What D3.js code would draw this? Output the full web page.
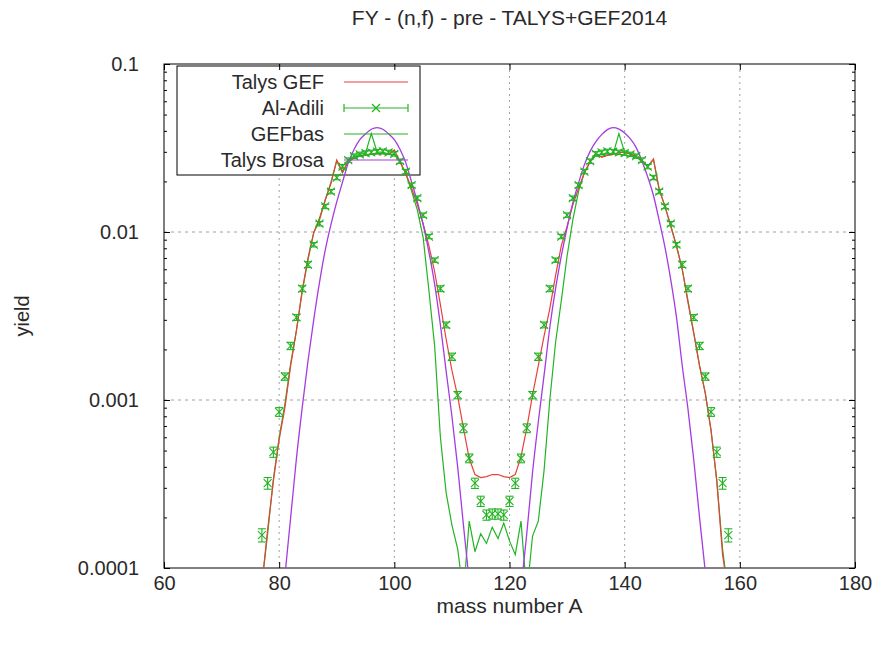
<!DOCTYPE html>
<html>
<head>
<meta charset="utf-8">
<script src="https://cdn.jsdelivr.net/npm/d3@7"></script>
<style>
  body { margin: 0; background: #fff; }
  text { font-family: "Liberation Sans", Arial, sans-serif; fill: #2a2a2a; }
</style>
</head>
<body>
<svg id="chart" width="875" height="646"></svg>
<script>
// ---- data ----
const massA = [77,78,79,80,81,82,83,84,85,86,87,88,89,90,91,92,93,94,95,96,97,98,99,100,
  101,102,103,104,105,106,107,108,109,110,111,112,113,114,115,116,117,118,119,120,
  121,122,123,124,125,126,127,128,129,130,131,132,133,134,135,136,137,138,139,140,
  141,142,143,144,145,146,147,148,149,150,151,152,153,154,155,156,157,158];

// Talys GEF (red)
const talysGef = [8e-5,1.7e-4,3.3e-4,5.8e-4,9e-4,1.6e-3,2.6e-3,4.5e-3,7e-3,9.9e-3,0.0118,0.0155,0.0195,0.0268,0.0228,0.0262,0.0275,0.0283,0.0288,0.0292,0.0293,0.0292,0.029,0.0308,
  0.0262,0.0222,0.0182,0.0145,0.0112,0.0083,0.0058,0.0037,0.0023,0.0015,1.05e-3,6.8e-4,4.5e-4,3.6e-4,3.45e-4,3.5e-4,3.6e-4,3.6e-4,3.5e-4,3.45e-4,
  3.6e-4,4.6e-4,6.8e-4,1.07e-3,1.6e-3,2.4e-3,3.5e-3,5.5e-3,8.3e-3,0.0108,0.0145,0.0182,0.0225,0.0262,0.0295,0.0278,0.0286,0.029,0.0298,0.0298,
  0.0292,0.028,0.0265,0.0245,0.0272,0.0178,0.0142,0.0108,0.0082,0.006,0.0038,0.0025,0.0016,0.0011,6.6e-4,3.3e-4,1.2e-4,7e-5];

// Al-Adili (green points with error bars)
const adili = [1.57e-4,3.2e-4,4.9e-4,8.5e-4,1.38e-3,2.1e-3,3.1e-3,4.6e-3,6.4e-3,8.4e-3,0.0112,0.0142,0.0174,0.0211,0.0245,0.0268,0.0283,0.029,0.0295,0.0298,0.0301,0.0302,0.0298,0.0292,
  0.0264,0.0229,0.019,0.0159,0.0126,9.4e-3,6.8e-3,4.6e-3,2.8e-3,1.81e-3,1.07e-3,6.8e-4,4.5e-4,3.2e-4,2.5e-4,2.07e-4,2.1e-4,2.1e-4,2.07e-4,2.5e-4,
  3.2e-4,4.5e-4,6.8e-4,1.07e-3,1.81e-3,2.8e-3,4.6e-3,6.8e-3,9.4e-3,0.0126,0.0159,0.019,0.0229,0.0264,0.0292,0.0298,0.0302,0.0301,0.0298,0.0295,
  0.029,0.0283,0.0268,0.0245,0.0211,0.0174,0.0142,0.0112,8.4e-3,6.4e-3,4.6e-3,3.1e-3,2.1e-3,1.38e-3,8.5e-4,4.9e-4,3.2e-4,1.57e-4];
// relative error, percent
const adiliErr = [9,8,7,6,5,5,4,4,4,3,3,3,3,3,3,3,3,3,3,3,3,3,3,3,
  3,3,3,3,3,3,3,4,4,5,5,6,6,7,7,7,7,7,7,7,
  7,6,6,5,5,4,4,3,3,3,3,3,3,3,3,3,3,3,3,3,
  3,3,3,3,3,3,3,3,3,4,4,4,5,5,6,7,8,9];

// GEFbas (green line)
const gefBas = [8e-5,1.6e-4,3.4e-4,6e-4,9.5e-4,1.65e-3,2.6e-3,4.4e-3,6.8e-3,9.9e-3,0.0121,0.0155,0.0198,0.0265,0.0225,0.0265,0.028,0.029,0.0295,0.0385,0.03,0.0298,0.0292,0.029,
  0.026,0.0222,0.0175,0.0135,0.0093,0.0045,0.0021,6e-4,2.8e-4,1.8e-4,1.3e-4,7e-5,1.9e-4,1.25e-4,1.6e-4,1.4e-4,1.75e-4,1.5e-4,1.85e-4,1.45e-4,
  1.2e-4,1.9e-4,7e-5,1.55e-4,1.9e-4,3.8e-4,1e-3,2.2e-3,3.9e-3,7.2e-3,0.0118,0.0175,0.0225,0.0262,0.0285,0.0282,0.0288,0.0292,0.0385,0.0298,
  0.0292,0.028,0.0265,0.0245,0.027,0.018,0.0142,0.011,0.0083,0.006,0.0039,0.0025,0.0016,0.0011,6.6e-4,3.3e-4,1.3e-4,7e-5];

// Talys Brosa (purple)
const brosaA = [80,81,82,83,84,85,86,87,88,89,90,91,92,93,94,95,96,97,98,99,100,101,102,103,104,105,106,107,108,109,110,111,112,113,114,
  121,122,123,124,125,126,127,128,129,130,131,132,133,134,135,136,137,138,139,140,141,142,143,144,145,146,147,148,149,150,151,152,153,154,155];
const brosa = [3.7e-5,9e-5,2e-4,4.5e-4,9e-4,1.7e-3,3e-3,5e-3,7.8e-3,0.0111,0.0151,0.0198,0.0258,0.031,0.0355,0.0384,0.0409,0.0418,0.0409,0.0384,0.0355,0.031,0.0258,0.0198,0.0151,0.0111,0.0076,0.0049,0.0028,0.00148,0.0008,0.0004,0.00018,8.4e-5,3.7e-5,
  3.3e-5,7.5e-5,1.6e-4,3.7e-4,7.4e-4,1.4e-3,2.7e-3,4.6e-3,7.2e-3,0.0106,0.0149,0.0196,0.0251,0.0302,0.0345,0.038,0.0407,0.0418,0.041,0.0388,0.0358,0.0318,0.0265,0.0213,0.0165,0.0117,0.0081,0.0052,0.0031,0.0016,8.8e-4,4.4e-4,2e-4,9.5e-5,4e-5];

const xTicks = [60, 80, 100, 120, 140, 160, 180];
const yTicks = [1e-4, 1e-3, 1e-2, 1e-1];
const yTickLabels = ["0.0001", "0.001", "0.01", "0.1"];
const legendNames = ["Talys GEF", "Al-Adili", "GEFbas", "Talys Brosa"];

// ---- layout ----
const svg = d3.select("#chart");
const pLeft = 164, pRight = 855, pTop = 64, pBottom = 568;
const red = "#e8413a", green = "#22b422", purple = "#a53be0";

const x = d3.scaleLinear().domain([60, 180]).range([pLeft, pRight]);
const y = d3.scaleLog().domain([1e-4, 0.1]).range([pBottom, pTop]);

svg.append("defs").append("clipPath").attr("id", "plotclip")
  .append("rect").attr("x", pLeft).attr("y", pTop).attr("width", pRight - pLeft).attr("height", pBottom - pTop);

// grid
const grid = svg.append("g").attr("stroke", "#a0a0a0").attr("stroke-width", 1);
grid.selectAll(".gx").data(xTicks.slice(1, -1)).enter().append("line")
  .attr("x1", d => x(d)).attr("x2", d => x(d)).attr("y1", pTop).attr("y2", pBottom)
  .attr("stroke-dasharray", "2,4");
grid.selectAll(".gy").data(yTicks.slice(1, -1)).enter().append("line")
  .attr("x1", pLeft).attr("x2", pRight).attr("y1", d => y(d)).attr("y2", d => y(d))
  .attr("stroke-dasharray", "3,4");

// legend box (white, hides the grid under it)
const lg = {x: 177, y: 66, w: 243, h: 109, textX: 324, sx1: 344, sx2: 408, row0: 82, dy: 26};
svg.append("rect").attr("x", lg.x).attr("y", lg.y).attr("width", lg.w).attr("height", lg.h)
  .attr("fill", "#fff").attr("stroke", "#000").attr("stroke-width", 1);

// axes with inward ticks (gnuplot style)
const minorY = [];
[1e-4, 1e-3, 1e-2].forEach(dec => { for (let k = 2; k <= 9; ++k) minorY.push(dec * k); });

function styleAxis(g) {
  g.select(".domain").remove();
  g.selectAll(".tick line").attr("stroke", "#000");
  g.selectAll(".tick text").attr("font-size", 20).attr("fill", "#2a2a2a")
    .attr("font-family", "Liberation Sans, Arial, sans-serif");
}
svg.append("g").attr("transform", `translate(0,${pBottom})`)
  .call(d3.axisBottom(x).tickValues(xTicks).tickSize(-6).tickPadding(8).tickFormat(d3.format("d")))
  .call(styleAxis);
svg.append("g").attr("transform", `translate(0,${pTop})`)
  .call(d3.axisTop(x).tickValues(xTicks).tickSize(-6).tickFormat(""))
  .call(styleAxis);
svg.append("g").attr("transform", `translate(${pLeft},0)`)
  .call(d3.axisLeft(y).tickValues(yTicks).tickSize(-6).tickPadding(25).tickFormat((d, i) => yTickLabels[i]))
  .call(styleAxis);
svg.append("g").attr("transform", `translate(${pLeft},0)`)
  .call(d3.axisLeft(y).tickValues(minorY).tickSize(-3).tickFormat(""))
  .call(styleAxis);
svg.append("g").attr("transform", `translate(${pRight},0)`)
  .call(d3.axisRight(y).tickValues(yTicks).tickSize(-6).tickFormat(""))
  .call(styleAxis);
svg.append("g").attr("transform", `translate(${pRight},0)`)
  .call(d3.axisRight(y).tickValues(minorY).tickSize(-3).tickFormat(""))
  .call(styleAxis);

svg.append("rect").attr("x", pLeft).attr("y", pTop).attr("width", pRight - pLeft).attr("height", pBottom - pTop)
  .attr("fill", "none").attr("stroke", "#000").attr("stroke-width", 1);

// curves
const plot = svg.append("g").attr("clip-path", "url(#plotclip)");
const line = d3.line().x(d => x(d[0])).y(d => y(d[1]));

plot.append("path").datum(massA.map((a, i) => [a, gefBas[i]]))
  .attr("d", line).attr("fill", "none").attr("stroke", green).attr("stroke-width", 1.2);
plot.append("path").datum(massA.map((a, i) => [a, talysGef[i]]))
  .attr("d", line).attr("fill", "none").attr("stroke", red).attr("stroke-width", 1.2);
plot.append("path").datum(brosaA.map((a, i) => [a, brosa[i]]))
  .attr("d", d3.line().x(d => x(d[0])).y(d => y(d[1])).curve(d3.curveMonotoneX))
  .attr("fill", "none").attr("stroke", purple).attr("stroke-width", 1.3);

// Al-Adili points with y error bars
function errPoint(g, cx, yLo, yHi, cy) {
  g.append("line").attr("x1", cx).attr("x2", cx).attr("y1", yLo).attr("y2", yHi);
  g.append("line").attr("x1", cx - 4).attr("x2", cx + 4).attr("y1", yLo).attr("y2", yLo);
  g.append("line").attr("x1", cx - 4).attr("x2", cx + 4).attr("y1", yHi).attr("y2", yHi);
  g.append("line").attr("x1", cx - 4).attr("x2", cx + 4).attr("y1", cy - 4).attr("y2", cy + 4);
  g.append("line").attr("x1", cx - 4).attr("x2", cx + 4).attr("y1", cy + 4).attr("y2", cy - 4);
}
const pts = plot.append("g").attr("stroke", green).attr("stroke-width", 1.1);
massA.forEach((a, i) => {
  const v = adili[i], e = adiliErr[i] / 100;
  errPoint(pts.append("g"), x(a), y(v * (1 - e)), y(v * (1 + e)), y(v));
});

// legend entries
const legColors = [red, green, green, purple];
legendNames.forEach((name, i) => {
  const ry = lg.row0 + i * lg.dy;
  svg.append("text").attr("x", lg.textX).attr("y", ry + 7).attr("text-anchor", "end")
    .attr("font-size", 20).text(name);
  const g = svg.append("g").attr("stroke", legColors[i]).attr("stroke-width", 1.2);
  g.append("line").attr("x1", lg.sx1).attr("x2", lg.sx2).attr("y1", ry).attr("y2", ry);
  if (name === "Al-Adili") {
    g.append("line").attr("x1", lg.sx1).attr("x2", lg.sx1).attr("y1", ry - 4).attr("y2", ry + 4);
    g.append("line").attr("x1", lg.sx2).attr("x2", lg.sx2).attr("y1", ry - 4).attr("y2", ry + 4);
    const mx = (lg.sx1 + lg.sx2) / 2;
    g.append("line").attr("x1", mx - 4).attr("x2", mx + 4).attr("y1", ry - 4).attr("y2", ry + 4);
    g.append("line").attr("x1", mx - 4).attr("x2", mx + 4).attr("y1", ry + 4).attr("y2", ry - 4);
  }
});

// titles
svg.append("text").attr("x", (pLeft + pRight) / 2).attr("y", 25).attr("text-anchor", "middle")
  .attr("font-size", 21).text("FY - (n,f) - pre - TALYS+GEF2014");
svg.append("text").attr("x", (pLeft + pRight) / 2).attr("y", 613).attr("text-anchor", "middle")
  .attr("font-size", 21).text("mass number A");
svg.append("text").attr("transform", `translate(29,${(pTop + pBottom) / 2}) rotate(-90)`)
  .attr("text-anchor", "middle").attr("font-size", 20).text("yield");
</script>
</body>
</html>
